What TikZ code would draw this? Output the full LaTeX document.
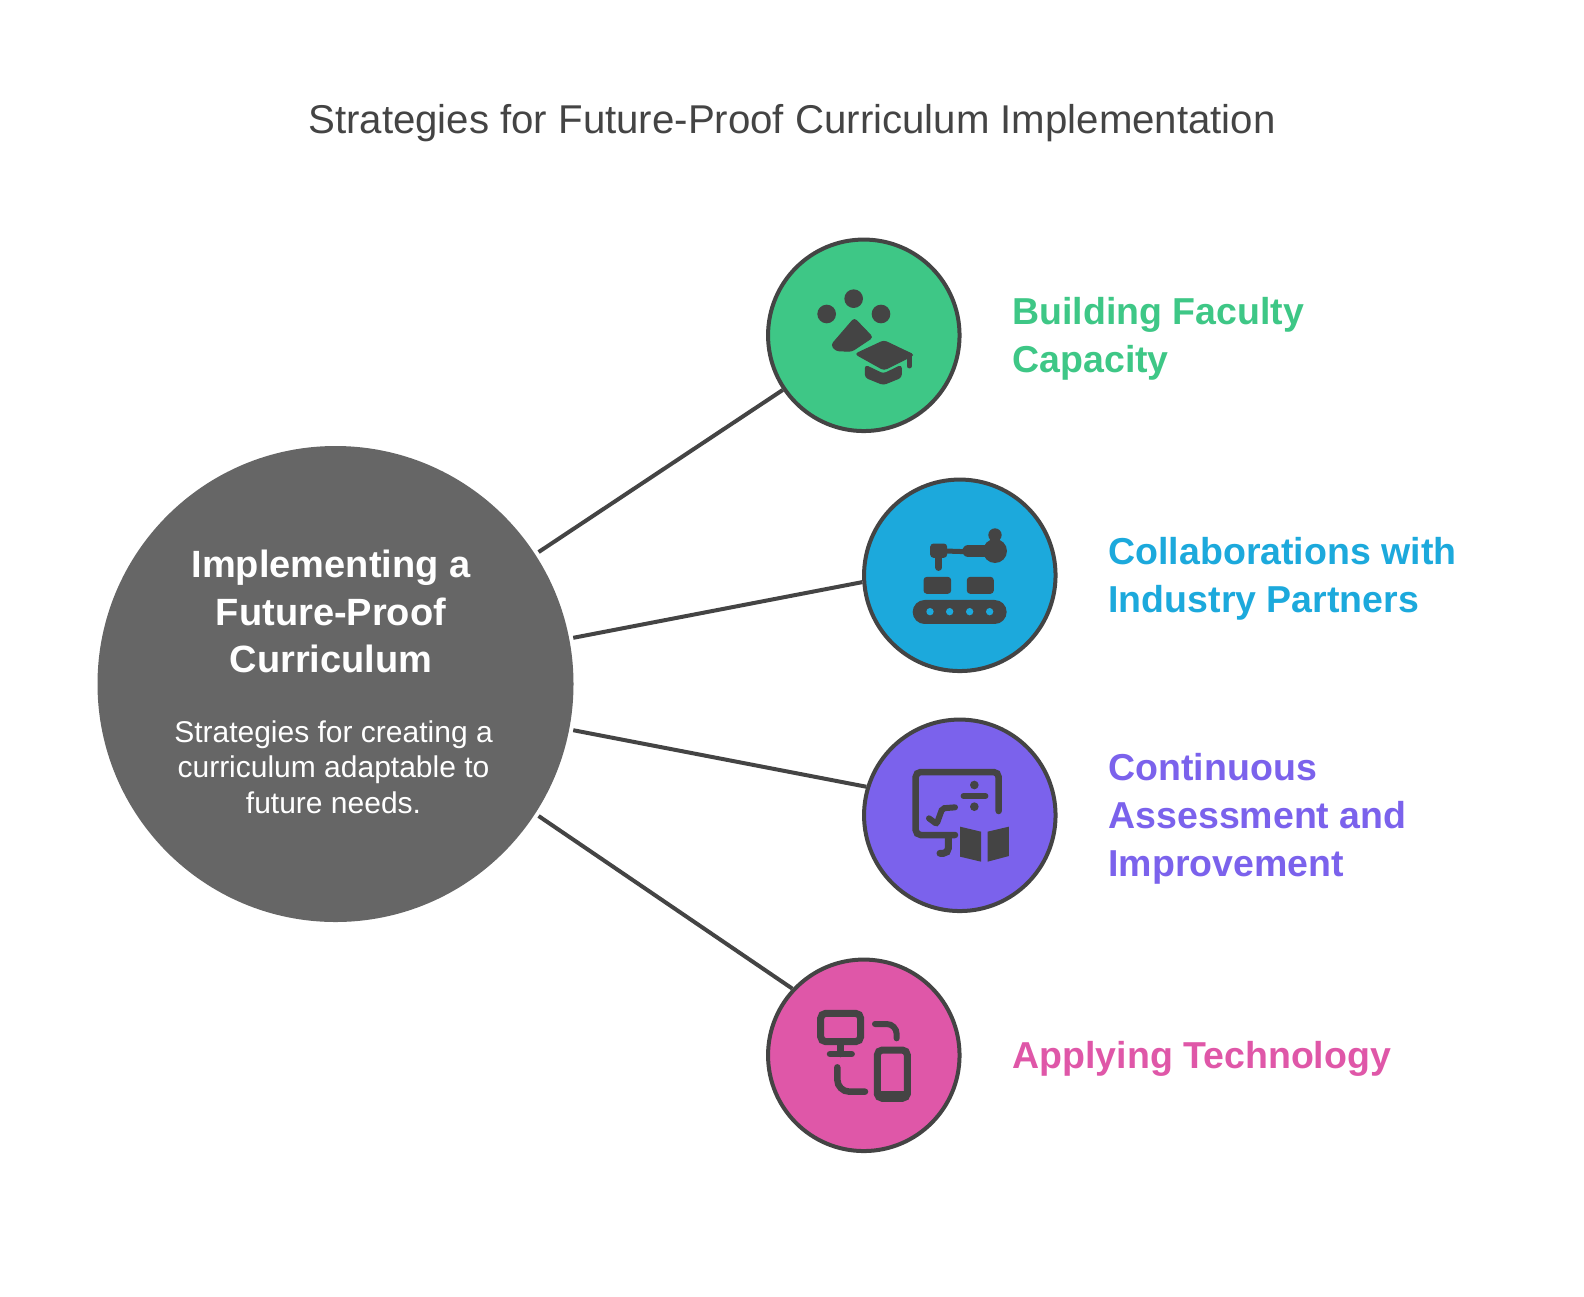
\documentclass[tikz,border=0pt]{standalone}
\usepackage{fontspec}
\setmainfont{Liberation Sans}
\definecolor{ink}{HTML}{444444}
\definecolor{hubgray}{HTML}{666666}
\definecolor{facultygreen}{HTML}{3EC786}
\definecolor{industryblue}{HTML}{1CA9DC}
\definecolor{assesspurple}{HTML}{7B62EC}
\definecolor{techpink}{HTML}{DF57A8}
\begin{document}
\begin{tikzpicture}[x=1pt, y=-1pt,
  spoke/.style={circle, draw=ink, line width=4pt, inner sep=0pt, minimum size=191.5pt},
  heading/.style={anchor=west, align=left, font=\fontsize{37.5}{48}\selectfont\bfseries},
  link/.style={draw=ink, line width=4pt, shorten <=4pt},
  iconfill/.style={fill=ink, draw=ink, line width=1pt, rounded corners=3pt},
  iconline/.style={draw=ink, line cap=round, rounded corners=5pt}]
\useasboundingbox (0,0) rectangle (1584,1296);
\node (title) [text=ink, font=\fontsize{40.2}{46}\selectfont] at (792,123) {Strategies for Future-Proof Curriculum Implementation};
\node (hub) [circle, fill=hubgray, inner sep=0pt, minimum size=476pt] at (335.5,684) {};
\node (hubtitle) [text=white, align=center, font=\fontsize{38}{47.7}\selectfont\bfseries] at (331,611.5) {Implementing a\\Future-Proof\\Curriculum};
\node (hubtext) [text=white, align=center, font=\fontsize{30}{35.5}\selectfont] at (333.5,767) {Strategies for creating a\\curriculum adaptable to\\future needs.};
\node (faculty) [spoke, fill=facultygreen] at (863.8,335.3) {};
\node (industry) [spoke, fill=industryblue] at (959.8,575.3) {};
\node (assess) [spoke, fill=assesspurple] at (959.8,815.3) {};
\node (tech) [spoke, fill=techpink] at (863.8,1055.3) {};
\node (facultylabel) [heading, text=facultygreen] at (1009,339) {Building Faculty\\Capacity};
\node (industrylabel) [heading, text=industryblue] at (1105,579) {Collaborations with\\Industry Partners};
\node (assesslabel) [heading, text=assesspurple] at (1105,819) {Continuous\\Assessment and\\Improvement};
\node (techlabel) [heading, text=techpink] at (1009,1059) {Applying Technology};
\draw [link] (hub.33) -- (faculty.214.7);
\draw [link] (hub.11) -- (industry.184.7);
\draw [link] (hub.-11) -- (assess.163.8);
\draw [link] (hub.-33.4) -- (tech.137.3);
\begin{scope}[shift={(760,230)}, scale=.3333]
\fill [ink] (200,252) circle (28) (281,206) circle (28) (363,252) circle (28);
\path [iconfill] (283,265) -- (338,322) -- (275,364) -- (228,362) -- (214,345) -- cycle;
\path [iconfill] (372,332) -- (462,375) -- (372,420) -- (286,372) -- cycle;
\path [iconfill] (316,406) -- (370,432) -- (424,406) -- (424,442) -- (370,464) -- (316,442) -- cycle;
\draw [iconline, line width=5pt] (448,375) -- (448,408);
\end{scope}
\begin{scope}[shift={(855,470)}, scale=.3333]
\fill [ink] (420,243) circle (36) (420,195) circle (20);
\draw [iconline, line width=12pt] (340,243) -- (400,243);
\draw [iconline, line width=5pt] (270,243) -- (330,245);
\path [iconfill] (227,222) rectangle (275,262);
\draw [iconline, line width=6.5pt] (251,262) -- (251,293);
\path [iconfill] (207,322) rectangle (287,370);
\path [iconfill] (337,322) rectangle (415,370);
\path [fill=ink, rounded corners=12pt] (173,390) rectangle (455,462);
\fill [industryblue] (225,425) circle (11) (284,425) circle (11) (344,425) circle (11) (404,425) circle (11);
\end{scope}
\begin{scope}[shift={(855,710)}, scale=.3333]
\draw [iconline, line width=6.5pt] (431,303) -- (431,186) -- (182,186) -- (182,375) -- (300,375);
\draw [iconline, line width=7pt] (280,380) -- (280,430) -- (255,430);
\draw [iconline, line width=5.5pt] (325,258) -- (392,258);
\fill [ink] (358,225) circle (13) (358,290) circle (13);
\draw [iconline, line width=6pt, rounded corners=2pt] (222,325) -- (245,342) -- (262,295) -- (300,292);
\fill [ink] (315,350) -- (378,365) -- (378,455) -- (315,440) -- cycle;
\fill [ink] (398,365) -- (462,350) -- (462,438) -- (398,455) -- cycle;
\end{scope}
\begin{scope}[shift={(760,950)}, scale=.3333]
\draw [iconline, line width=7pt] (182,190) rectangle (302,275);
\draw [iconline, line width=6.5pt] (242,285) -- (242,312);
\draw [iconline, line width=6.5pt] (210,312) -- (275,312);
\draw [iconline, line width=6pt, rounded corners=10pt] (345,222) -- (410,222) -- (410,265);
\draw [iconline, line width=7pt] (352,300) rectangle (442,445);
\draw [iconline, line width=7pt] (352,432) -- (442,432);
\draw [iconline, line width=6.5pt, rounded corners=12pt] (232,352) -- (232,425) -- (315,425);
\end{scope}
\end{tikzpicture}
\end{document}
